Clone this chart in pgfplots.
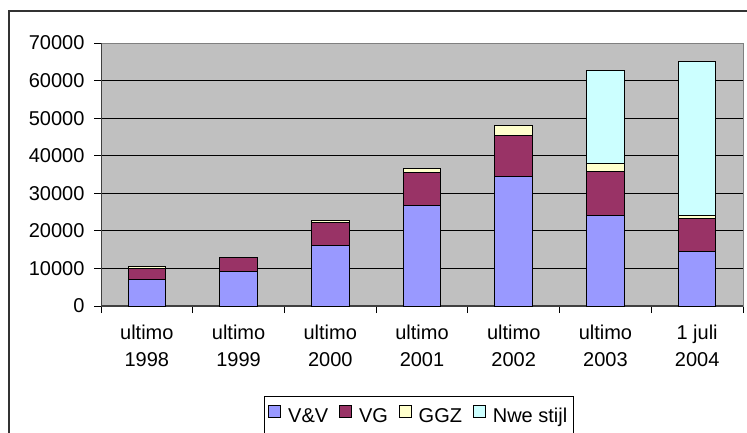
\documentclass[border=0pt]{standalone}
\usepackage{fontspec}
\setmainfont{Liberation Sans}
\usepackage{pgfplots}
\pgfplotsset{compat=1.18}
\definecolor{cVV}{HTML}{9999FF}
\definecolor{cVG}{HTML}{993366}
\definecolor{cGGZ}{HTML}{FFFFCC}
\definecolor{cNwe}{HTML}{CCFFFF}
\definecolor{cBg}{HTML}{C0C0C0}
\pgfplotstableread{
x VV VG GGZ Nwe
0 7100 3000 300 0
1 9300 3700 0 0
2 16200 6100 500 0
3 26700 8900 1000 0
4 34400 11100 2500 0
5 24200 11500 2100 24800
6 14600 8600 900 41000
}\datatable
\pgfplotsset{sq/.style={legend image code/.code={\draw[##1, line width=0.8pt] (0pt,-1pt) rectangle (12pt,11pt);}}}
\begin{document}
\begin{tikzpicture}[x=1pt,y=1pt]
\useasboundingbox (0,0) rectangle (747,432);
\draw[black!80, line width=1.3pt] (9,-20) -- (9,421) -- (790,421);
\begin{axis}[
  at={(101pt,126pt)}, anchor=south west, scale only axis,
  width=642pt, height=263pt,
  ybar stacked, bar width=37.7pt,
  xmin=-0.5, xmax=6.5, ymin=0, ymax=70000,
  ytick={0,10000,...,70000},
  xtick={0,...,6},
  xticklabels={{ultimo\\1998},{ultimo\\1999},{ultimo\\2000},{ultimo\\2001},{ultimo\\2002},{ultimo\\2003},{1 juli\\2004}},
  minor xtick={-0.5,0.5,...,6.5},
  tick align=outside, major tick length=7pt, minor tick length=7pt,
  xtick pos=bottom, ytick pos=left,
  major x tick style={draw=none},
  minor x tick style={draw=black, line width=0.8pt},
  major y tick style={draw=black, line width=0.8pt},
  ymajorgrids, grid style={black, line width=0.8pt},
  axis background/.style={fill=cBg},
  axis line style={draw=black!50, line width=0.8pt},
  scaled y ticks=false,
  /pgf/number format/.cd, 1000 sep={}, assume math mode=true, /pgfplots/.cd,
  ticklabel style={font=\fontsize{20}{25}\selectfont},
  yticklabel style={xshift=-6pt},
  xticklabel style={align=center, yshift=-8pt, font=\fontsize{20}{27}\selectfont},
  legend columns=-1,
  legend style={at={(0.2539,-0.3410)}, anchor=north west, draw=black, line width=0.8pt,
    fill=white, font=\fontsize{20}{24}\selectfont, inner xsep=4pt, inner ysep=9pt,
    /tikz/every odd column/.append style={column sep=5pt},
    /tikz/every even column/.append style={column sep=9pt}},
]
\addplot[fill=cVV, draw=black, line width=1pt, sq] table[x=x, y=VV] {\datatable};
\addplot[fill=cVG, draw=black, line width=1pt, sq] table[x=x, y=VG] {\datatable};
\addplot[fill=cGGZ, draw=black, line width=1pt, sq] table[x=x, y=GGZ] {\datatable};
\addplot[fill=cNwe, draw=black, line width=1pt, sq] table[x=x, y=Nwe] {\datatable};
\legend{V\&V, VG, GGZ, Nwe stijl}
\draw[black!75, line width=1.5pt] (rel axis cs:0,0) -- (rel axis cs:0,1);
\draw[black!75, line width=1.2pt] (rel axis cs:0,0) -- (rel axis cs:1,0);
\end{axis}
\end{tikzpicture}
\end{document}
